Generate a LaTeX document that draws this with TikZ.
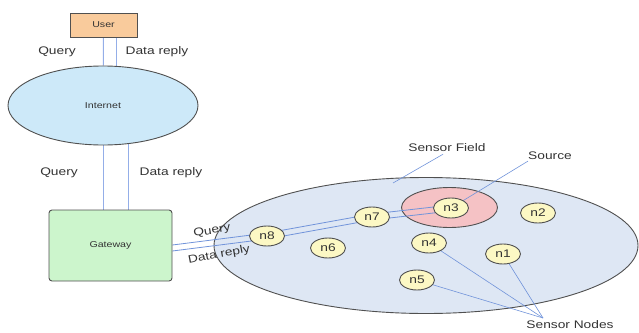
\documentclass[tikz,border=0pt]{standalone}
\usepackage{fontspec}
\setmainfont{Liberation Sans}[FakeStretch=1.25]
\usetikzlibrary{shapes.geometric}
\definecolor{userfill}{HTML}{F9CB9C}
\definecolor{inetfill}{HTML}{CDE9F9}
\definecolor{gwfill}{HTML}{CCF5CC}
\definecolor{fieldfill}{HTML}{DEE7F4}
\definecolor{srcfill}{HTML}{F5C2C5}
\definecolor{nodefill}{HTML}{FCF8C4}
\definecolor{bordercol}{HTML}{505050}
\definecolor{linkcol}{HTML}{7194DA}
\definecolor{toplink}{HTML}{94AEE8}
\definecolor{txt}{HTML}{333333}
\pgfdeclarelayer{bg}
\pgfdeclarelayer{mid}
\pgfsetlayers{bg,mid,main}
\tikzset{
  biglabel/.style={font=\fontsize{11}{13}\selectfont, text=txt, inner sep=0pt},
  smalllabel/.style={font=\fontsize{8.5}{10}\selectfont, text=txt},
  sensor/.style={ellipse, draw=bordercol, line width=0.9pt, fill=nodefill,
     minimum width=35pt, minimum height=20pt, inner sep=0pt,
     font=\fontsize{11}{13}\selectfont, text=txt},
  link/.style={draw=linkcol, line width=0.8pt},
  uplink/.style={draw=toplink, line width=1pt},
  pointer/.style={draw=linkcol, line width=0.6pt}
}
\begin{document}
\begin{tikzpicture}[x=1pt,y=-1pt]
\useasboundingbox (0,0) rectangle (639,332);

% top part
\node[draw=bordercol, line width=0.9pt, fill=userfill, minimum width=67pt, minimum height=24pt, smalllabel] (user) at (103.5,25) {User};
\node[ellipse, draw=bordercol, line width=0.9pt, fill=inetfill, minimum width=190pt, minimum height=79pt, smalllabel] (inet) at (103,105.5) {Internet};
\node[draw=bordercol, line width=0.9pt, fill=gwfill, rounded corners=3pt, minimum width=123pt, minimum height=71pt, smalllabel] (gw) at (110.5,245.5) {Gateway};

\node[biglabel] (q1) at (57,52) {Query};
\node[biglabel] (d1) at (157,52) {Data reply};
\node[biglabel] (q2) at (59,173) {Query};
\node[biglabel] (d2) at (171,173) {Data reply};

% sensor field
\begin{pgfonlayer}{bg}
\node[ellipse, draw=bordercol, line width=0.9pt, fill=fieldfill, minimum width=424pt, minimum height=136pt] (field) at (426,245.5) {};
\node[ellipse, draw=bordercol, line width=0.9pt, fill=srcfill, minimum width=96pt, minimum height=40pt] (source) at (449.5,207.5) {};
\end{pgfonlayer}

\node[sensor] (n8) at (267,236) {n8};
\node[sensor] (n7) at (372,217) {n7};
\node[sensor] (n6) at (328,248) {n6};
\node[sensor] (n3) at (451,208) {n3};
\node[sensor] (n2) at (538,213) {n2};
\node[sensor] (n4) at (429,243) {n4};
\node[sensor] (n1) at (503,254) {n1};
\node[sensor] (n5) at (417,280) {n5};

\node[biglabel] (sflabel) at (447,148) {Sensor Field};
\node[biglabel] (srclabel) at (550,156) {Source};
\node[biglabel] (snlabel) at (570,325) {Sensor Nodes};
\node[biglabel, rotate=10] (q3) at (212,231) {Query};
\node[biglabel, rotate=11] (d3) at (219,255) {Data reply};

\coordinate (sfend) at (393,183);
\coordinate (snjoin) at (543,318);

\begin{pgfonlayer}{mid}
\draw[uplink] (user) -- (inet);
\draw[uplink] ([xshift=13pt]user.center) -- ([xshift=13pt]user.center |- inet.center);
\draw[uplink] (inet.center) -- (inet.center |- gw.center);
\draw[uplink] ([xshift=25pt]inet.center) -- ([xshift=25pt]inet.center |- gw.center);
\draw[link] ([yshift=0.5pt]gw.center -| gw.east) -- ([yshift=3pt]n8.center) -- ([yshift=3pt]n7.center) -- ([yshift=3pt]n3.center);
\draw[link] ([yshift=-5.5pt]gw.center -| gw.east) -- ([yshift=-3pt]n8.center) -- ([yshift=-3pt]n7.center) -- ([yshift=-3pt]n3.center);
\draw[pointer] ([xshift=-4pt,yshift=-2pt]sflabel.south) -- (sfend);
\draw[pointer] ([yshift=-1pt]srclabel.south west) -- (n3.center);
\draw[pointer] (snjoin) -- (n4.center);
\draw[pointer] (snjoin) -- (n1.center);
\draw[pointer] (snjoin) -- (n5.center);
\end{pgfonlayer}
\end{tikzpicture}
\end{document}
